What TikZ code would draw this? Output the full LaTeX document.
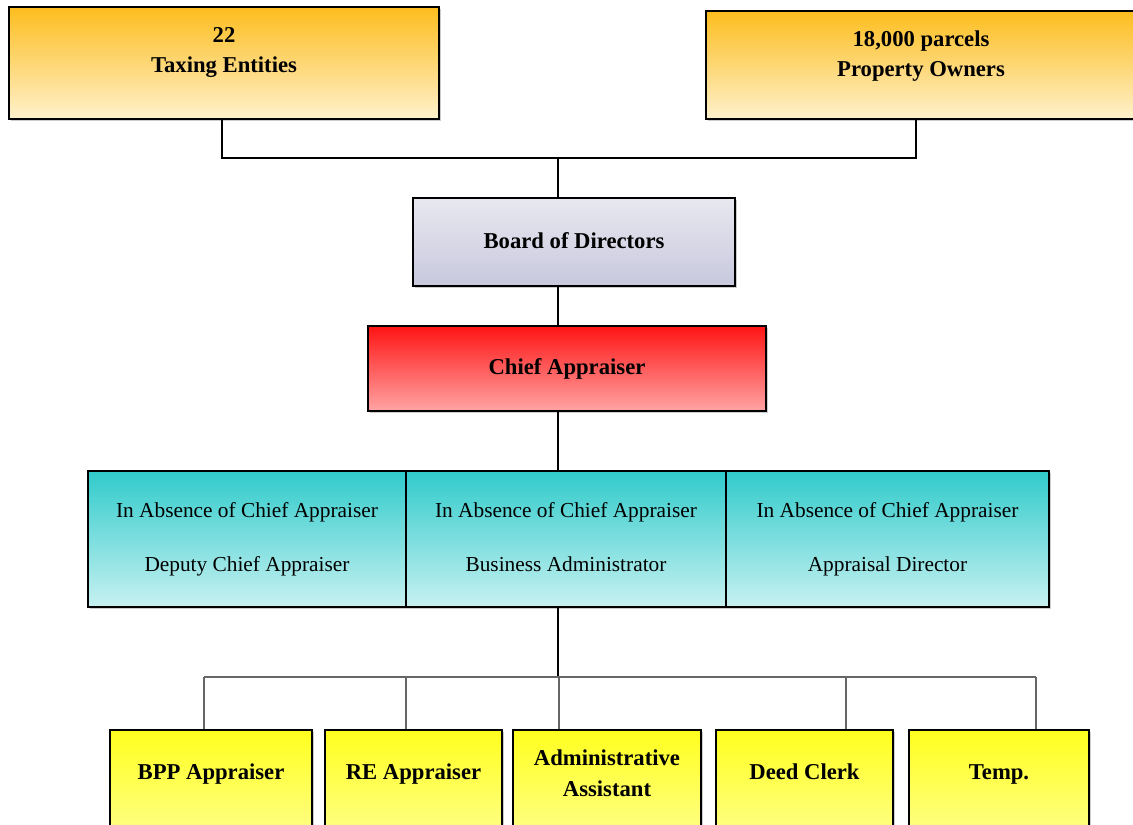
\documentclass[tikz,border=0pt]{standalone}
\usepackage{fontspec}
\setmainfont{Liberation Serif}
\usepackage{tikz}
\usetikzlibrary{positioning,shadows}
\definecolor{ambertop}{HTML}{FDBD1E}
\definecolor{amberbot}{HTML}{FEF1CC}
\definecolor{boardtop}{HTML}{E8E8F0}
\definecolor{boardbot}{HTML}{C8C8DE}
\definecolor{chieftop}{HTML}{FF1414}
\definecolor{chiefbot}{HTML}{FFA4A4}
\definecolor{cyantop}{HTML}{31CBCB}
\definecolor{cyanbot}{HTML}{C8F1F1}
\definecolor{staffttop}{HTML}{FFFF1E}
\definecolor{staffbot}{HTML}{FFFFAA}

\begin{document}
\begin{tikzpicture}[x=0.75pt,y=-0.75pt,
    orgbox/.style={draw=black,line width=1.6pt,inner sep=0pt,
      drop shadow={shadow xshift=1.2pt,shadow yshift=-1.2pt,fill=black!40}},
    ambbox/.style={orgbox,top color=ambertop,bottom color=amberbot},
    boardbox/.style={orgbox,top color=boardtop,bottom color=boardbot},
    chiefbox/.style={orgbox,top color=chieftop,bottom color=chiefbot},
    deputybox/.style={orgbox,top color=cyantop,bottom color=cyanbot,
      minimum height=102pt,align=center,
      font=\fontsize{16}{40.5}\selectfont},
    staffbox/.style={orgbox,top color=staffttop,bottom color=staffbot,
      minimum height=105pt},
    boxtext/.style={align=center,inner sep=0pt,
      font=\fontsize{17}{23}\selectfont\bfseries},
    mainline/.style={draw=black,line width=1.1pt},
    busline/.style={draw=black!60,line width=0.8pt}]
  \useasboundingbox (0,0) rectangle (1133,825);
  % top level
  \node[ambbox,minimum width=322.5pt,minimum height=84pt] (tax) at (224,63) {};
  \node[boxtext] (tax-t) at (224,51.5) {\strut 22\\\strut Taxing Entities};
  \node[ambbox,minimum width=329pt,minimum height=81pt] (own) at (925.5,65) {};
  \node[boxtext] (own-t) at (921,55.5) {\strut 18,000 parcels\\\strut Property Owners};
  \node[boardbox,minimum width=241.5pt,minimum height=66pt,boxtext] (board) at (574,242) {\strut Board of Directors};
  \node[chiefbox,minimum width=298.5pt,minimum height=63.75pt,boxtext] (chief) at (567,368.5) {\strut Chief Appraiser};
  % acting heads
  \node[deputybox,minimum width=238.5pt] (deputy) at (247,539)
    {In Absence of Chief Appraiser\\Deputy Chief Appraiser\vphantom{y}};
  \node[deputybox,minimum width=240pt] (busadm) at (566,539)
    {In Absence of Chief Appraiser\\Business Administrator\vphantom{y}};
  \node[deputybox,minimum width=242.25pt] (apprdir) at (887.5,539)
    {In Absence of Chief Appraiser\\Appraisal Director\vphantom{y}};
  % staff
  \node[staffbox,minimum width=151.5pt] (bpp) at (211,800) {};
  \node[staffbox,minimum width=132.75pt] (re) at (413.5,800) {};
  \node[staffbox,minimum width=141pt] (admin) at (607,800) {};
  \node[staffbox,minimum width=132.75pt] (deed) at (804.5,800) {};
  \node[staffbox,minimum width=135pt] (temp) at (999,800) {};
  \node[boxtext] (bpp-t) at (211,773) {\strut BPP Appraiser};
  \node[boxtext] (re-t) at (413.5,773) {\strut RE Appraiser};
  \node[boxtext] (admin-t) at (607,775) {\strut Administrative\\\strut Assistant};
  \node[boxtext] (deed-t) at (804.5,773) {\strut Deed Clerk};
  \node[boxtext] (temp-t) at (999,773) {\strut Temp.};
  % connectors
  \coordinate (topbus) at (558,158);
  \coordinate (ownend) at (916,119);
  \coordinate (lowbus) at (558,677);
  \draw[mainline] (tax.south -| 222,0) |- (topbus) -| (ownend);
  \draw[mainline] (topbus) -- (topbus |- board.north);
  \draw[mainline] (board.south -| topbus) -- (chief.north -| topbus);
  \draw[mainline] (chief.south -| topbus) -- (busadm.north -| topbus);
  \draw[mainline] (busadm.south -| topbus) -- (lowbus);
  \draw[busline] (204,677) -- (1036,677);
  \foreach \x/\n in {204/bpp,406/re,559/admin,846/deed,1036/temp}
    \draw[busline] (\x,677) -- (\x,677 |- \n.north);
\end{tikzpicture}
\end{document}
